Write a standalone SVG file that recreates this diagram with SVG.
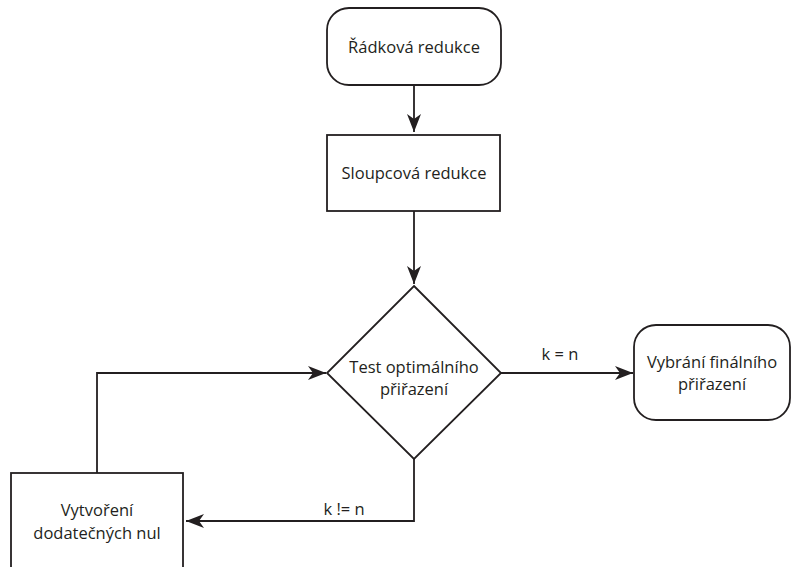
<svg xmlns="http://www.w3.org/2000/svg" width="798" height="567" viewBox="0 0 798 567">
<style>
.n{fill:#fff;stroke:#231f20;stroke-width:1.8}
.c{fill:none;stroke:#231f20;stroke-width:1.8}
text{font-family:"Open Sans","Liberation Sans",sans-serif;font-size:16.5px;fill:#231f20;text-anchor:middle}
</style>
<defs>
<marker id="a" markerUnits="userSpaceOnUse" markerWidth="20" markerHeight="14" refX="18" refY="7" orient="auto">
<path d="M0,0 L18,7 L0,14 L5,7 Z" fill="#231f20"/>
</marker>
</defs>
<rect width="798" height="567" fill="#fff"/>
<g id="connectors">
<path class="c" d="M414,85 V132" marker-end="url(#a)"/>
<path class="c" d="M414,211 V284" marker-end="url(#a)"/>
<path class="c" d="M501,373 H633" marker-end="url(#a)"/>
<path class="c" d="M414,459 V521 H186" marker-end="url(#a)"/>
<path class="c" d="M97,473 V373 H326" marker-end="url(#a)"/>
<text x="560" y="360">k = n</text>
<text x="344" y="515">k != n</text>
</g>
<g id="n1">
<rect class="n" x="327" y="8" width="174" height="77" rx="22"/>
<text x="414" y="53">Řádková redukce</text>
</g>
<g id="n2">
<rect class="n" x="327" y="135" width="173" height="76"/>
<text x="414" y="179">Sloupcová redukce</text>
</g>
<g id="n3">
<path class="n" d="M414,286 L501,373 L414,459 L327,373 Z"/>
<text x="414" y="373">Test optimálního</text>
<text x="414" y="395">přiřazení</text>
</g>
<g id="n4">
<rect class="n" x="634" y="325" width="156" height="95" rx="22"/>
<text x="712" y="368">Vybrání finálního</text>
<text x="712" y="390">přiřazení</text>
</g>
<g id="n5">
<rect class="n" x="11" y="473" width="172" height="100"/>
<text x="97" y="516">Vytvoření</text>
<text x="97" y="539">dodatečných nul</text>
</g>
</svg>
